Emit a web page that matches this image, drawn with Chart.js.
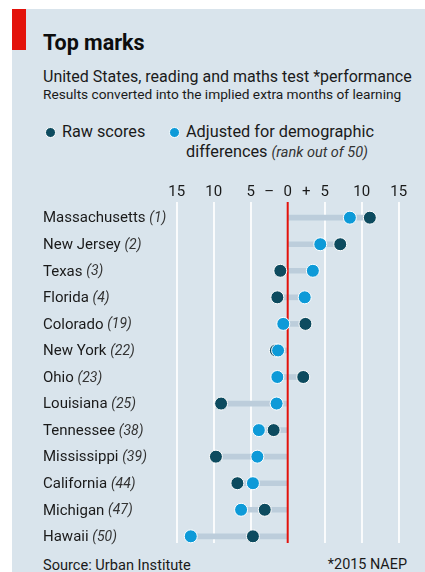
<!DOCTYPE html>
<html>
<head>
<meta charset="utf-8">
<script src="https://cdn.jsdelivr.net/npm/chart.js@4/dist/chart.umd.min.js"></script>
<style>
  html, body { margin: 0; padding: 0; background: #fff; }
  body { width: 425px; height: 572px; position: relative; overflow: hidden; font-family: Roboto, "Open Sans", sans-serif; color: #1a1a1a; }
  #panel { position: absolute; left: 12px; top: 9px; width: 413px; height: 563px; background: #d9e4ec; }
  #redbar { position: absolute; left: 12px; top: 9px; width: 14px; height: 41px; background: #e3120b; }
  .t { position: absolute; white-space: nowrap; line-height: 1; }
  #title { left: 43px; top: 32px; font-size: 21.5px; font-weight: bold; color: #0d0d0d; }
  #sub1 { left: 43px; top: 69px; font-size: 16px; }
  #sub2 { left: 43px; top: 88px; font-size: 13.7px; }
  .dot { position: absolute; width: 11px; height: 11px; border-radius: 50%; border: 1px solid #fff; box-sizing: border-box; }
  #leg1 { left: 62px; top: 124px; font-size: 16.2px; }
  #leg2 { left: 186px; top: 124px; font-size: 16.3px; }
  #leg3 { left: 186px; top: 143.5px; font-size: 16.3px; }
  #leg3 i { font-size: 14.5px; color: #333; }
  #src { left: 43px; top: 558px; font-size: 14.6px; }
  #note { right: 18px; top: 558px; font-size: 14.4px; }
  #c { position: absolute; left: 0; top: 0; }
</style>
</head>
<body>
<div id="panel"></div>
<div id="redbar"></div>
<div class="t" id="title">Top marks</div>
<div class="t" id="sub1">United States, reading and maths test *performance</div>
<div class="t" id="sub2">Results converted into the implied extra months of learning</div>
<div class="dot" style="left:45px;top:127px;background:#0d4b5f"></div>
<div class="t" id="leg1">Raw scores</div>
<div class="dot" style="left:169px;top:127px;background:#0d9ad8"></div>
<div class="t" id="leg2">Adjusted for demographic</div>
<div class="t" id="leg3">differences <i>(rank out of 50)</i></div>
<div class="t" id="src">Source: Urban Institute</div>
<div class="t" id="note">*2015 NAEP</div>
<canvas id="c" width="425" height="572"></canvas>
<script>
const states = ["Massachusetts","New Jersey","Texas","Florida","Colorado","New York","Ohio","Louisiana","Tennessee","Mississippi","California","Michigan","Hawaii"];
const ranks = ["(1)","(2)","(3)","(4)","(19)","(22)","(23)","(25)","(38)","(39)","(44)","(47)","(50)"];
const rawScores = [11.1, 7.1, -1.0, -1.4, 2.4, -1.6, 2.1, -9.0, -1.9, -9.7, -6.8, -3.1, -4.7];
const adjusted = [8.4, 4.4, 3.4, 2.3, -0.6, -1.3, -1.4, -1.5, -3.9, -4.1, -4.7, -6.3, -13.1];
const tickValues = [-15, -10, -5, -2.5, 0, 2.5, 5, 10, 15];
const gridValues = [-15, -10, -5, 5, 10, 15];

const FONT = "Roboto, 'Open Sans', sans-serif";
const ranges = states.map((s, i) => [Math.min(0, rawScores[i], adjusted[i]), Math.max(0, rawScores[i], adjusted[i])]);

const gridPlugin = {
  id: 'gridPlugin',
  beforeDatasetsDraw(chart) {
    const ctx = chart.ctx, x = chart.scales.x;
    ctx.save();
    ctx.strokeStyle = '#ffffff';
    ctx.lineWidth = 1.7;
    gridValues.forEach(v => {
      const px = Math.round(x.getPixelForValue(v));
      ctx.beginPath(); ctx.moveTo(px, 202); ctx.lineTo(px, 543); ctx.stroke();
    });
    ctx.restore();
  },
  afterDatasetDraw(chart, args) {
    if (args.index !== 0) return;
    const ctx = chart.ctx, x = chart.scales.x;
    const px = x.getPixelForValue(0);
    ctx.save();
    ctx.strokeStyle = '#e3120b';
    ctx.lineWidth = 2;
    ctx.beginPath(); ctx.moveTo(px, 202); ctx.lineTo(px, 543); ctx.stroke();
    ctx.restore();
  },
  afterDraw(chart) {
    const ctx = chart.ctx, y = chart.scales.y;
    ctx.save();
    ctx.textBaseline = 'middle';
    ctx.textAlign = 'left';
    states.forEach((s, i) => {
      const py = y.getPixelForValue(i) + 1;
      ctx.font = "15px " + FONT;
      ctx.fillStyle = '#1a1a1a';
      ctx.fillText(s, 43, py);
      const w = ctx.measureText(s + ' ').width;
      ctx.font = "italic 14px " + FONT;
      ctx.fillStyle = '#333333';
      ctx.fillText(ranks[i], 43 + w, py);
    });
    ctx.restore();
  }
};

new Chart(document.getElementById('c'), {
  data: {
    labels: states,
    datasets: [
      { type: 'bar', data: ranges, backgroundColor: '#bccddb', barThickness: 5, borderWidth: 0, borderSkipped: false, order: 3 },
      { type: 'line', label: 'Raw scores', data: rawScores.map((v, i) => ({ x: v, y: states[i] })), showLine: false,
        pointRadius: 6.5, pointBackgroundColor: '#0d4b5f', pointBorderColor: '#ffffff', pointBorderWidth: 1, order: 2 },
      { type: 'line', label: 'Adjusted', data: adjusted.map((v, i) => ({ x: v, y: states[i] })), showLine: false,
        pointRadius: 6.5, pointBackgroundColor: '#0d9ad8', pointBorderColor: '#ffffff', pointBorderWidth: 1, order: 1 }
    ]
  },
  options: {
    indexAxis: 'y',
    responsive: false,
    animation: false,
    events: [],
    clip: false,
    layout: { padding: { left: 176.7, right: 26.3, top: 180.4, bottom: 22.4 } },
    plugins: { legend: { display: false }, tooltip: { enabled: false } },
    scales: {
      x: {
        type: 'linear', position: 'top', min: -15, max: 15,
        afterBuildTicks: (scale) => { scale.ticks = tickValues.map(v => ({ value: v })); },
        afterFit: (scale) => { scale.height = 24; },
        grid: { display: false, drawTicks: false },
        border: { display: false },
        ticks: {
          padding: 3, autoSkip: false, maxRotation: 0, color: '#1a1a1a',
          font: { family: FONT, size: 15 },
          callback: (v) => v === 0 ? '0' : v === -2.5 ? '–' : v === 2.5 ? '+' : String(Math.abs(v))
        }
      },
      y: { type: 'category', display: false, offset: true }
    }
  },
  plugins: [gridPlugin]
});
</script>
</body>
</html>
